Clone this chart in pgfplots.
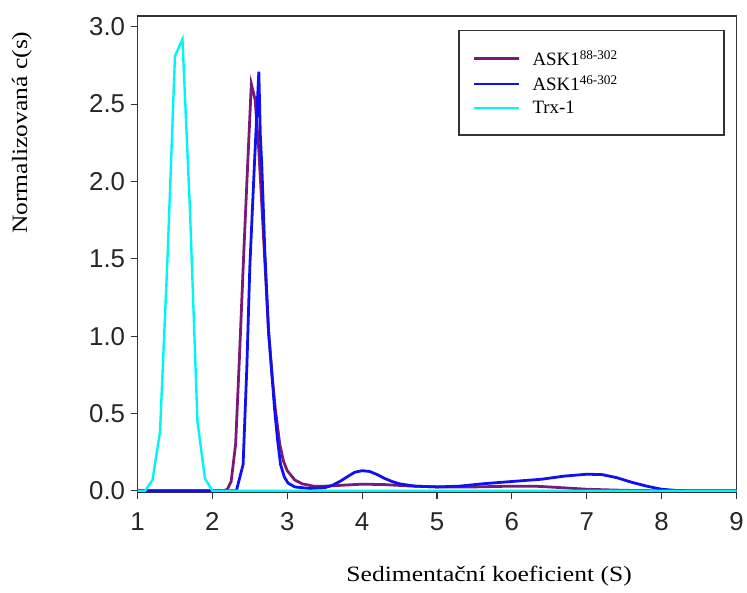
\documentclass[border=0pt]{standalone}
\usepackage{pgfplots}
\pgfplotsset{compat=1.18}
\usepackage{fontspec}
\setmainfont{Liberation Serif}
\newfontfamily\arial{Liberation Sans}
\newfontfamily\wideserif[FakeStretch=1.17]{Liberation Serif}
\definecolor{askpurple}{HTML}{7A1A78}
\definecolor{askblue}{HTML}{1010F0}
\definecolor{trxcyan}{HTML}{00F5F5}
\definecolor{axgray}{HTML}{333333}
\begin{document}
\begin{tikzpicture}
\begin{axis}[
  at={(0,0)}, anchor=south west,
  scale only axis, width=601bp, height=478bp,
  xmin=1, xmax=9, ymin=-0.01, ymax=3.07,
  xtick={1,...,9}, ytick={0,0.5,...,3.0},
  xtick pos=left, ytick pos=left, tick align=outside,
  major tick length=7bp,
  axis line style={axgray, line width=1.6bp},
  every tick/.style={axgray, line width=1.2bp},
  /pgf/number format/assume math mode=true,
  yticklabel style={/pgf/number format/fixed, /pgf/number format/fixed zerofill, /pgf/number format/precision=1, xshift=-2bp},
  ticklabel style={font=\arial\fontsize{26}{26}\selectfont, text=black!85},
  xticklabel style={yshift=-10bp},
  xlabel={Sedimentační koeficient (S)},
  xlabel style={at={(rel axis cs:0.587,0)}, anchor=center, yshift=-84bp, font=\wideserif\fontsize{22}{22}\selectfont},
  ylabel={Normalizovaná c(s)},
  ylabel style={at={(rel axis cs:-0.193,0.755)}, anchor=center, font=\wideserif\fontsize{22}{22}\selectfont},
  legend style={at={(rel axis cs:0.98,0.971)}, anchor=north east, draw=axgray, line width=1.2bp,
    font=\fontsize{19}{22}\selectfont, inner xsep=14bp, inner ysep=18bp, row sep=5bp,
    nodes={text width=176bp},
    /tikz/every odd column/.append style={column sep=10bp}},
  legend cell align=left,
  legend image code/.code={\draw[#1] (0bp,0bp) -- (45bp,0bp);},
]
\addplot[askpurple, line width=2.8bp] coordinates {
(1.0,0) (2.15,0) (2.2,0.01) (2.25,0.06) (2.31,0.30) (2.36,0.85) (2.42,1.55) (2.47,2.1) (2.52,2.63)
(2.57,2.53) (2.62,2.2) (2.68,1.67) (2.75,1.03) (2.8,0.73) (2.84,0.53) (2.9,0.3) (2.95,0.19)
(3.0,0.13) (3.1,0.07) (3.2,0.045) (3.35,0.03) (3.5,0.03) (3.7,0.035) (4.0,0.043) (4.3,0.04)
(4.6,0.032) (5.0,0.025) (5.5,0.025) (6.0,0.03) (6.3,0.03) (6.6,0.022) (7.0,0.01) (7.5,0.003) (8.0,0) (9.0,0)
};
\addlegendentry{ASK1\textsuperscript{88-302}}
\addplot[askblue, line width=2.8bp] coordinates {
(1.0,0) (2.32,0) (2.41,0.17) (2.46,0.8) (2.5,1.45) (2.56,2.1) (2.62,2.71) (2.64,2.3) (2.66,2.1)
(2.7,1.55) (2.75,1.03) (2.8,0.72) (2.83,0.53) (2.87,0.33) (2.91,0.17) (2.96,0.09) (3.01,0.05)
(3.1,0.025) (3.3,0.015) (3.5,0.02) (3.6,0.035) (3.7,0.06) (3.8,0.09) (3.9,0.12) (4.0,0.13)
(4.1,0.125) (4.2,0.105) (4.3,0.08) (4.4,0.06) (4.5,0.045) (4.7,0.03) (5.0,0.025) (5.3,0.03)
(5.6,0.045) (6.0,0.06) (6.4,0.075) (6.7,0.095) (7.0,0.107) (7.2,0.105) (7.4,0.085) (7.6,0.055)
(7.8,0.03) (8.0,0.01) (8.2,0.002) (8.4,0) (9.0,0)
};
\addlegendentry{ASK1\textsuperscript{46-302}}
\addplot[trxcyan, line width=2.4bp] coordinates {
(1.0,0) (1.1,0.0) (1.2,0.07) (1.3,0.38) (1.4,1.5) (1.5,2.81) (1.6,2.92) (1.7,1.82) (1.8,0.45)
(1.9,0.08) (2.0,0) (2.1,0) (9.0,0)
};
\addlegendentry{Trx-1}
\end{axis}
\path[use as bounding box] (-138bp,-100bp) rectangle (609bp,494bp);
\end{tikzpicture}
\end{document}
